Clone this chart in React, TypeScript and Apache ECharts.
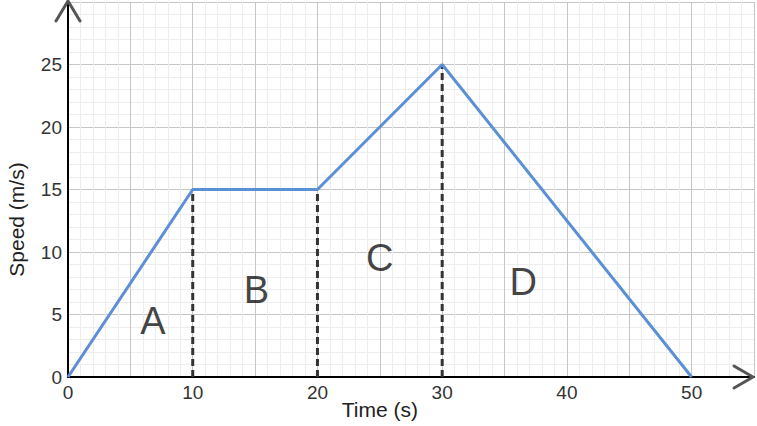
import React, { useEffect, useRef } from "react";
import * as echarts from "echarts";

const timeValues = [0, 10, 20, 30, 50];
const speedValues = [0, 15, 15, 25, 0];
const dividerTimes = [10, 20, 30];
const regionLabels = ["A", "B", "C", "D"];
const regionX = [6.8, 15.1, 25, 36.5];
const regionY = [4.5, 7, 9.5, 7.6];
const xTickLabels = [0, 10, 20, 30, 40, 50];
const yTickLabels = [0, 5, 10, 15, 20, 25];
const xAxisTitle = "Time (s)";
const yAxisTitle = "Speed (m/s)";
const xTitleAt = 25;
const yTitleAt = 12.6;

const FONT = "'Liberation Sans', Arial, sans-serif";

export default function App() {
  const ref = useRef<HTMLDivElement>(null);

  useEffect(() => {
    if (!ref.current) return;
    const chart = echarts.init(ref.current, null, { renderer: "svg" });

    const axisCommon = {
      type: "value",
      min: 0,
      interval: 5,
      axisLine: { show: true, onZero: false, lineStyle: { color: "#000", width: 2 } },
      axisTick: { show: false },
      splitLine: { show: true, lineStyle: { color: "#c6c6c6", width: 1 } },
      minorTick: { show: false, splitNumber: 5 },
      minorSplitLine: { show: true, lineStyle: { color: "#ededed", width: 1 } },
    };

    const dividerSeries = dividerTimes.map((t) => ({
      type: "line",
      data: [
        [t, 0],
        [t, speedValues[timeValues.indexOf(t)]],
      ],
      symbol: "none",
      silent: true,
      z: 3,
      lineStyle: { color: "#333", width: 3, type: [7, 4] },
    }));

    chart.setOption({
      animation: false,
      grid: { left: 68, right: 1.5, top: 2, bottom: 49 },
      xAxis: {
        ...axisCommon,
        max: 55,
        axisLabel: {
          formatter: (v: number) => (xTickLabels.includes(v) ? String(v) : ""),
          fontSize: 19,
          color: "#333",
          margin: 6,
          fontFamily: FONT,
        },
      },
      yAxis: {
        ...axisCommon,
        max: 30,
        axisLabel: {
          formatter: (v: number) => (yTickLabels.includes(v) ? String(v) : ""),
          fontSize: 19,
          color: "#333",
          margin: 6,
          fontFamily: FONT,
        },
      },
      series: [
        ...dividerSeries,
        {
          type: "line",
          data: timeValues.map((t, i) => [t, speedValues[i]]),
          symbol: "none",
          z: 4,
          lineStyle: { color: "#5b8fd6", width: 3 },
        },
        {
          type: "scatter",
          data: regionLabels.map((l, i) => ({ name: l, value: [regionX[i], regionY[i]] })),
          symbolSize: 1,
          itemStyle: { color: "rgba(0,0,0,0)" },
          silent: true,
          z: 5,
          label: {
            show: true,
            position: "inside",
            formatter: (p: any) => p.name,
            fontSize: 38,
            color: "#111",
            fontFamily: FONT,
          },
        },
      ],
    });

    const xEnd = chart.convertToPixel({ gridIndex: 0 }, [55, 0]) as number[];
    const yEnd = chart.convertToPixel({ gridIndex: 0 }, [0, 30]) as number[];
    const xTitle = chart.convertToPixel({ gridIndex: 0 }, [xTitleAt, 0]) as number[];
    const yTitle = chart.convertToPixel({ gridIndex: 0 }, [0, yTitleAt]) as number[];

    const arrowStyle = { stroke: "#555", lineWidth: 3, fill: "none", lineCap: "round", lineJoin: "round" };

    chart.setOption({
      graphic: [
        {
          type: "polyline",
          z: 10,
          shape: {
            points: [
              [xEnd[0] - 20, xEnd[1] - 11],
              [xEnd[0] - 1, xEnd[1]],
              [xEnd[0] - 20, xEnd[1] + 11],
            ],
          },
          style: arrowStyle,
        },
        {
          type: "polyline",
          z: 10,
          shape: {
            points: [
              [yEnd[0] - 12, yEnd[1] + 19],
              [yEnd[0], yEnd[1] - 1],
              [yEnd[0] + 12, yEnd[1] + 19],
            ],
          },
          style: arrowStyle,
        },
        {
          type: "text",
          z: 10,
          x: xTitle[0],
          y: xTitle[1] + 32,
          style: {
            text: xAxisTitle,
            fontSize: 21,
            fill: "#222",
            fontFamily: FONT,
            align: "center",
            verticalAlign: "middle",
          },
        },
        {
          type: "text",
          z: 10,
          x: 16,
          y: yTitle[1],
          rotation: Math.PI / 2,
          style: {
            text: yAxisTitle,
            fontSize: 21,
            fill: "#222",
            fontFamily: FONT,
            align: "center",
            verticalAlign: "middle",
          },
        },
      ],
    });

    return () => chart.dispose();
  }, []);

  return (
    <div
      ref={ref}
      style={{ position: "absolute", left: 0, top: 0, width: 757, height: 426, background: "#fff" }}
    />
  );
}
